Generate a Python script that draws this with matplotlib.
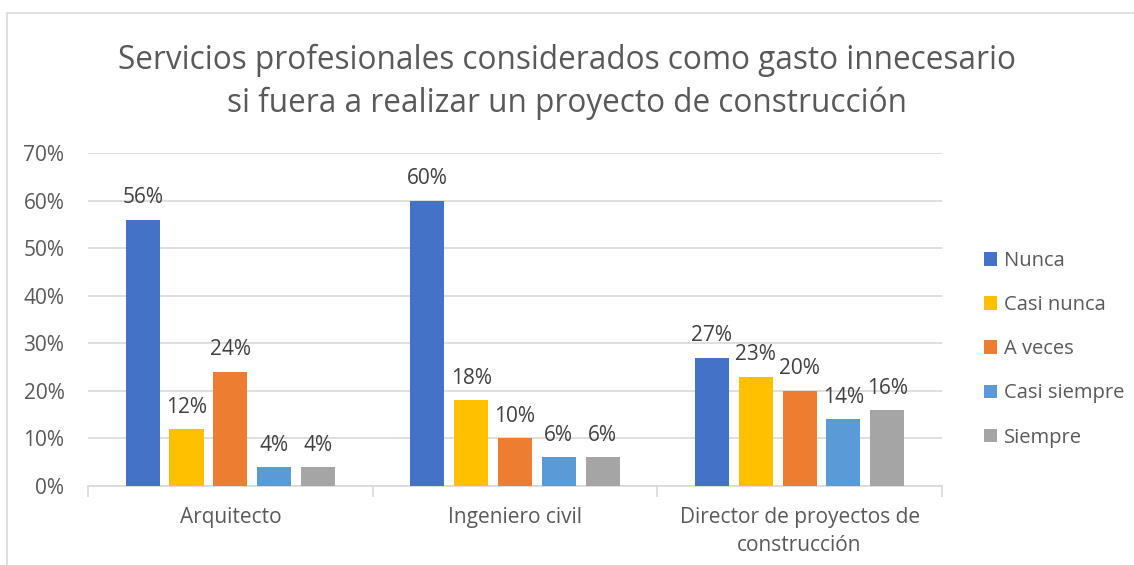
import numpy as np
import matplotlib.pyplot as plt
from matplotlib.patches import Rectangle

plt.rcParams['font.family'] = ['Open Sans', 'DejaVu Sans']

categorias = ['Arquitecto', 'Ingeniero civil', 'Director de proyectos de\nconstrucción']
series = ['Nunca', 'Casi nunca', 'A veces', 'Casi siempre', 'Siempre']
nunca = [56, 60, 27]
casi_nunca = [12, 18, 23]
a_veces = [24, 10, 20]
casi_siempre = [4, 6, 14]
siempre = [4, 6, 16]
colores = ['#4472C4', '#FFC000', '#ED7D31', '#5B9BD5', '#A5A5A5']

valores = [nunca, casi_nunca, a_veces, casi_siempre, siempre]

fig = plt.figure(figsize=(11.34, 5.65), dpi=100)
ax = fig.add_axes([0.0776, 0.1398, 0.753, 0.5892])

# marco del gráfico
fig.patches.append(Rectangle((7 / 1134, -0.1), 1.2, 1 - 13 / 565 + 0.1,
                             transform=fig.transFigure, fill=False,
                             edgecolor='#d9d9d9', linewidth=1.2))

x = np.arange(len(categorias))
ancho = 0.12
paso = 0.154
for i, (nombre, vals, col) in enumerate(zip(series, valores, colores)):
    pos = x + (i - 2) * paso
    barras = ax.bar(pos, vals, width=ancho, color=col, label=nombre, zorder=3)
    for b, v in zip(barras, vals):
        ax.text(b.get_x() + b.get_width() / 2, v + 2.4, f'{v}%',
                ha='center', va='bottom', fontsize=15, color='#404040')

ax.set_xlim(-0.5, 2.5)
ax.set_ylim(0, 70)
ax.set_yticks(range(0, 71, 10))
ax.set_yticklabels([f'{t}%' for t in range(0, 71, 10)])
ax.yaxis.grid(True, color='#d9d9d9', linewidth=1.2, zorder=0)
ax.set_axisbelow(True)

for s in ['top', 'right', 'left']:
    ax.spines[s].set_visible(False)
ax.spines['bottom'].set_color('#d9d9d9')
ax.spines['bottom'].set_linewidth(1.2)

ax.set_xticks([-0.5, 0.5, 1.5, 2.5], minor=False)
ax.set_xticklabels([])
ax.tick_params(axis='x', which='major', length=8, color='#d9d9d9', width=1.2, direction='out')
ax.set_xticks(x, minor=True)
ax.set_xticklabels(categorias, minor=True, linespacing=1.45)
ax.tick_params(axis='x', which='minor', length=0, pad=15, labelsize=15, labelcolor='#595959')
ax.tick_params(axis='y', length=0, labelsize=15, labelcolor='#595959', pad=17)

fig.text(0.5, 0.855, 'Servicios profesionales considerados como gasto innecesario\nsi fuera a realizar un proyecto de construcción',
         ha='center', va='center', fontsize=22.7, color='#595959', linespacing=1.36)

leg = ax.legend(loc='center left', bbox_to_anchor=(1.028, 0.411), frameon=False,
                fontsize=14.5, labelcolor='#595959', handlelength=0.65, handleheight=0.65,
                handletextpad=0.35, labelspacing=1.2)

fig.savefig('out.png', dpi=100)
